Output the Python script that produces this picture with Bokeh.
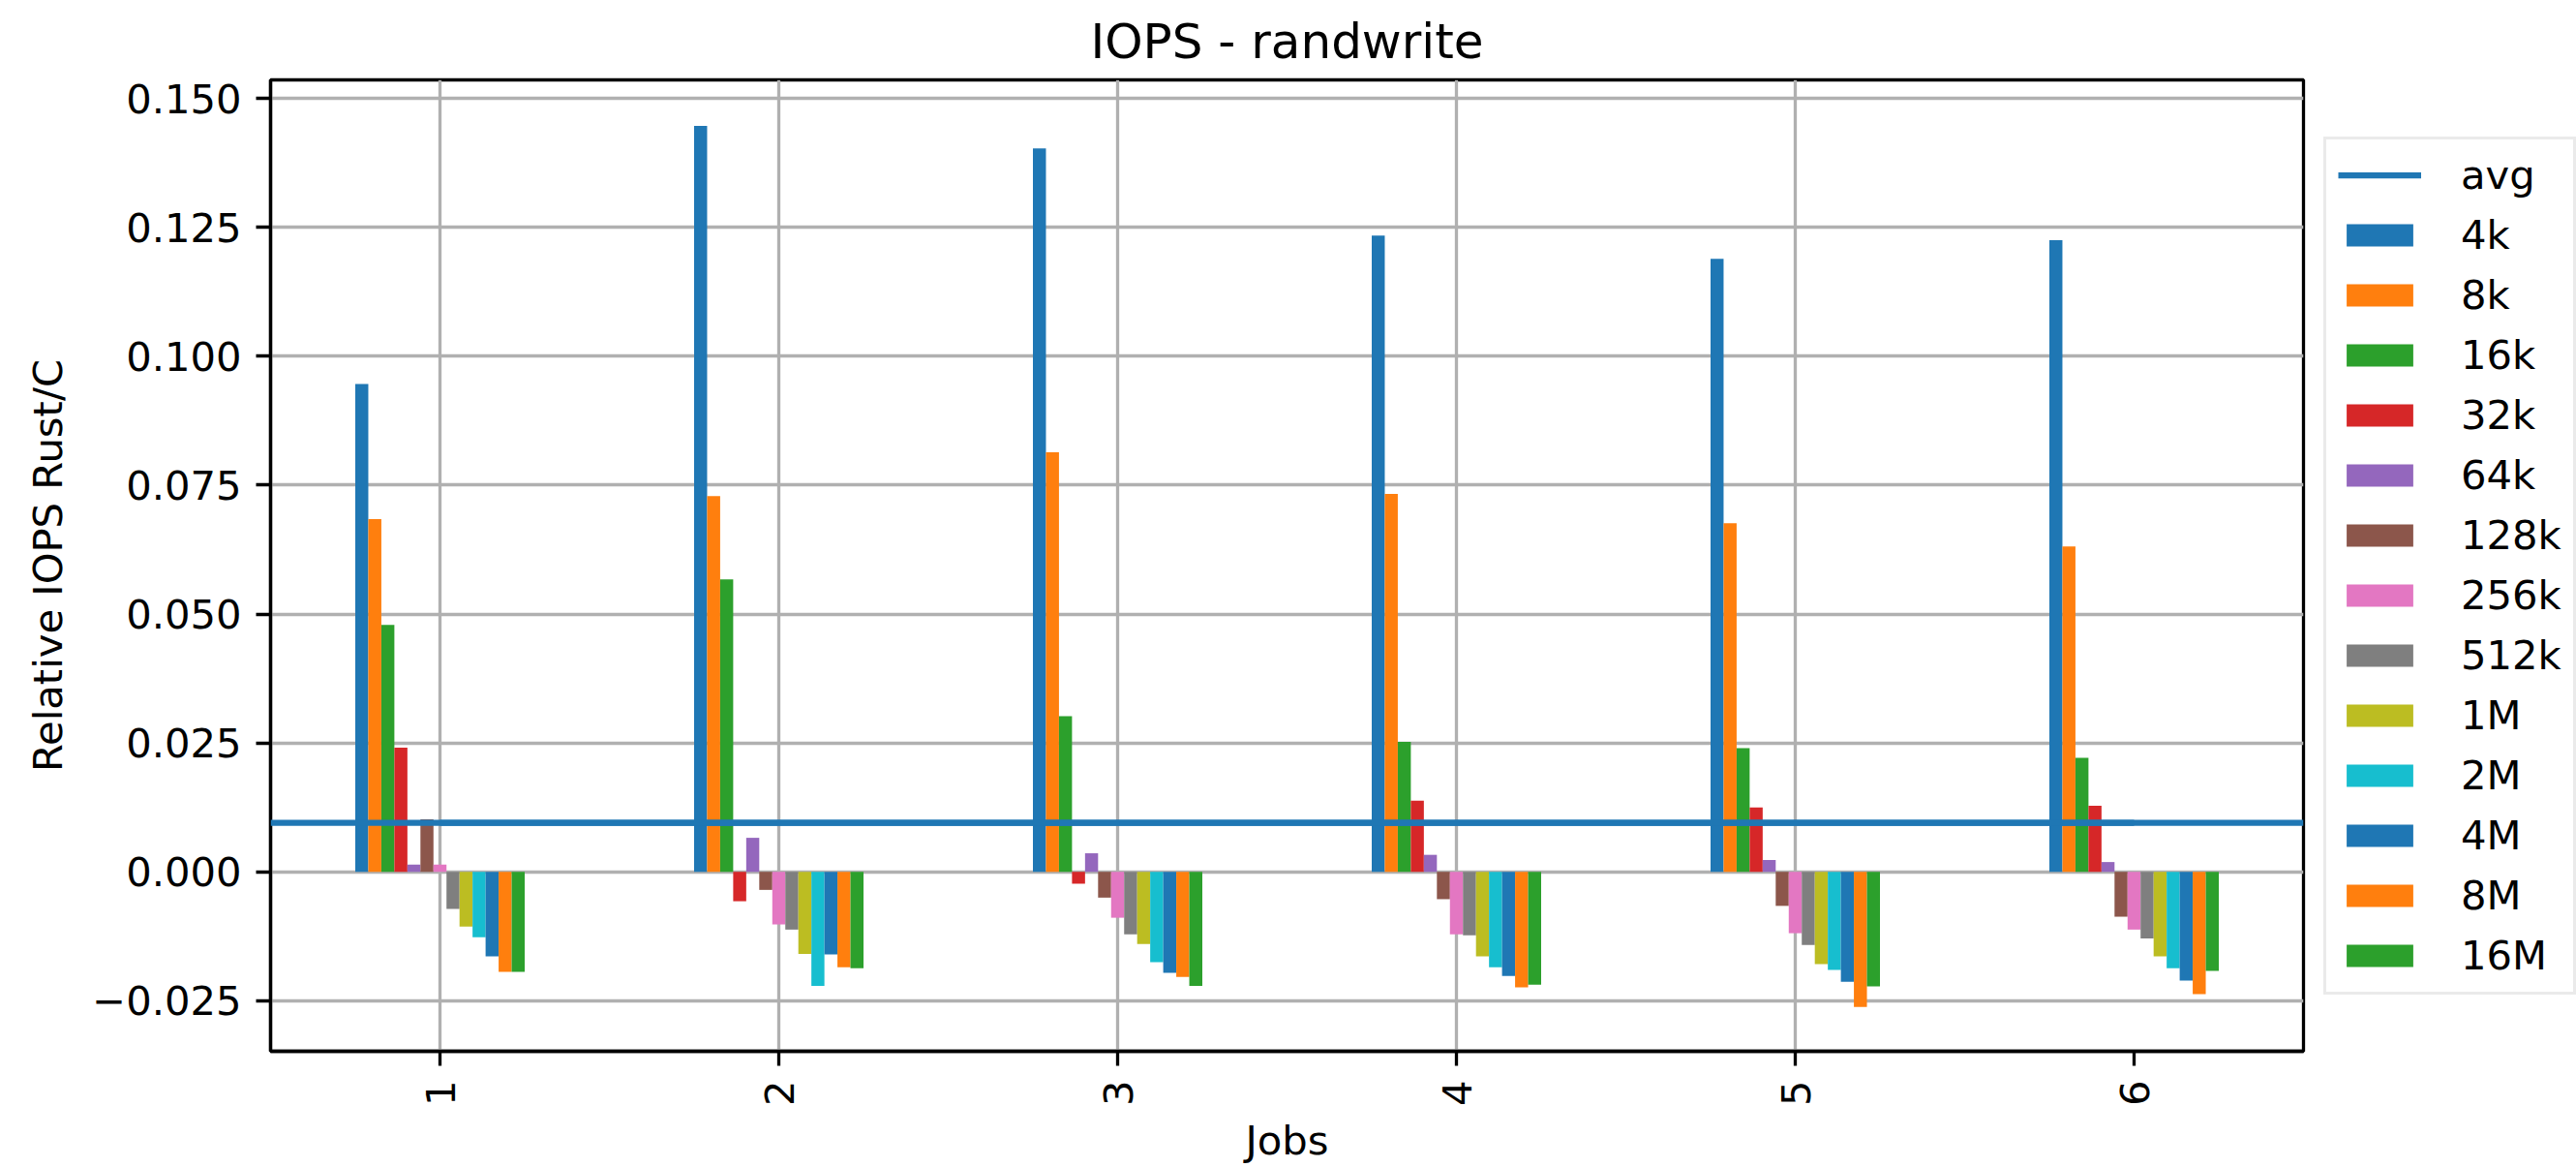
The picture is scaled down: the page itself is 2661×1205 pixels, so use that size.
import math
from bokeh.plotting import figure
from bokeh.models import (FactorRange, Range1d, Span, Legend, LegendItem,
                          CustomJSTickFormatter, FixedTicker)
from bokeh.transform import dodge
from bokeh.embed import file_html
from bokeh.resources import INLINE

# ---- data ----
jobs = ["1", "2", "3", "4", "5", "6"]
sizes = ["4k", "8k", "16k", "32k", "64k", "128k", "256k", "512k",
         "1M", "2M", "4M", "8M", "16M"]
v_4k   = [0.0946, 0.1447, 0.1403, 0.1234, 0.1189, 0.1225]
v_8k   = [0.0684, 0.0729, 0.0814, 0.0733, 0.0676, 0.0631]
v_16k  = [0.0479, 0.0567, 0.0302, 0.0252, 0.0240, 0.0221]
v_32k  = [0.0241, -0.0057, -0.0023, 0.0138, 0.0125, 0.0128]
v_64k  = [0.0014, 0.0066, 0.0036, 0.0033, 0.0023, 0.0019]
v_128k = [0.0102, -0.0035, -0.0050, -0.0053, -0.0066, -0.0087]
v_256k = [0.0014, -0.0102, -0.0089, -0.0121, -0.0119, -0.0112]
v_512k = [-0.0072, -0.0112, -0.0121, -0.0123, -0.0142, -0.0129]
v_1M   = [-0.0106, -0.0159, -0.0140, -0.0164, -0.0179, -0.0164]
v_2M   = [-0.0127, -0.0221, -0.0175, -0.0185, -0.0190, -0.0187]
v_4M   = [-0.0164, -0.0160, -0.0196, -0.0202, -0.0213, -0.0211]
v_8M   = [-0.0194, -0.0185, -0.0204, -0.0224, -0.0262, -0.0237]
v_16M  = [-0.0194, -0.0187, -0.0221, -0.0219, -0.0222, -0.0192]
avg_value = 0.0095
y_ticks = [-0.025, 0.0, 0.025, 0.05, 0.075, 0.1, 0.125, 0.15]

series = [v_4k, v_8k, v_16k, v_32k, v_64k, v_128k, v_256k, v_512k,
          v_1M, v_2M, v_4M, v_8M, v_16M]
colors = ["#1f77b4", "#ff7f0e", "#2ca02c", "#d62728", "#9467bd", "#8c564b",
          "#e377c2", "#7f7f7f", "#bcbd22", "#17becf", "#1f77b4", "#ff7f0e",
          "#2ca02c"]

FONT = "DejaVu Sans"
FS = "41.7px"
LW = 3.3

p = figure(x_range=FactorRange(factors=jobs, range_padding=0),
           y_range=Range1d(-0.0348, 0.1536),
           frame_width=2100, frame_height=1003,
           min_border_left=279, min_border_top=82, min_border_right=0,
           min_border_bottom=10,
           output_backend="svg", toolbar_location=None,
           title="IOPS - randwrite")

p.title.text_font = FONT
p.title.text_font_size = "50px"
p.title.text_font_style = "normal"
p.title.text_color = "black"
p.title.align = "center"
p.title.standoff = 22

p.outline_line_color = "black"
p.outline_line_width = LW

n = len(sizes)
w = 0.5 / n
data = {"job": jobs}
for s, vals in zip(sizes, series):
    data[s] = vals

renderers = []
for k, (s, c) in enumerate(zip(sizes, colors)):
    r = p.vbar(x=dodge("job", (k - (n - 1) / 2) * w, range=p.x_range),
               top=s, bottom=0, width=w, source=data,
               fill_color=c, line_color=None)
    renderers.append(r)

avg_span = Span(location=avg_value, dimension="width",
                line_color="#1f77b4", line_width=6.25)
p.add_layout(avg_span)
avg_r = p.line(x=jobs, y=[avg_value] * len(jobs),
               line_color="#1f77b4", line_width=6.25)

# axes
for ax in (p.xaxis[0], p.yaxis[0]):
    ax.axis_line_width = LW
    ax.major_tick_line_width = LW
    ax.major_tick_out = 15
    ax.major_tick_in = 0
    ax.minor_tick_line_color = None
    ax.major_label_text_font = FONT
    ax.major_label_text_font_size = FS
    ax.major_label_text_color = "black"
    ax.axis_label_text_font = FONT
    ax.axis_label_text_font_size = FS
    ax.axis_label_text_font_style = "normal"
    ax.axis_label_text_color = "black"
    ax.major_label_standoff = 15

p.xaxis.axis_label = "Jobs"
p.xaxis.major_label_orientation = math.pi / 2
p.xaxis.axis_label_standoff = 8
p.yaxis.axis_label = "Relative IOPS Rust/C"
p.yaxis.axis_label_standoff = 18
p.yaxis.ticker = FixedTicker(ticks=y_ticks)
p.yaxis.formatter = CustomJSTickFormatter(
    code="return (tick < -1e-9 ? '\u2212' : '') + Math.abs(tick).toFixed(3);")

p.xgrid.grid_line_color = "#b0b0b0"
p.ygrid.grid_line_color = "#b0b0b0"
p.xgrid.grid_line_width = LW
p.ygrid.grid_line_width = LW

items = [LegendItem(label="avg", renderers=[avg_r])]
for s, r in zip(sizes, renderers):
    items.append(LegendItem(label=s, renderers=[r]))

legend = Legend(items=items, location="center_left",
                label_text_font=FONT, label_text_font_size=FS,
                label_text_color="black",
                glyph_width=86, glyph_height=29, label_height=50,
                label_width=104,
                label_standoff=41, spacing=12, padding=12, margin=21,
                border_line_color="#d5d5d5", border_line_width=3,
                background_fill_color="white", background_fill_alpha=1.0)
p.add_layout(legend, "right")

open("out.html", "w").write(file_html(p, INLINE))
